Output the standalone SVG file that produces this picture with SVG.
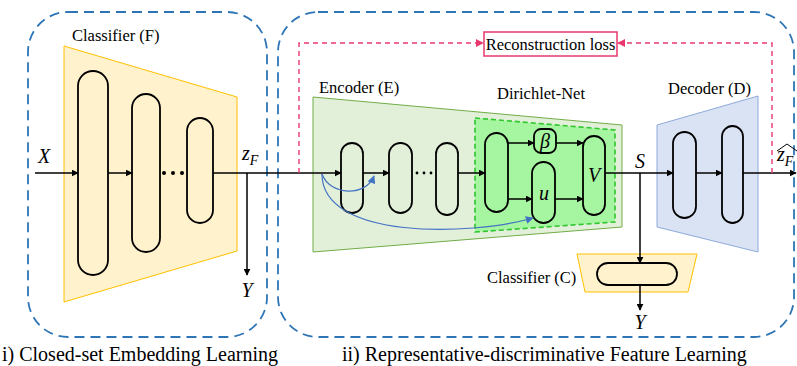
<svg xmlns="http://www.w3.org/2000/svg" width="797" height="366" viewBox="0 0 797 366">
<defs>
<marker id="ak" viewBox="0 0 10 10" refX="9" refY="5" markerWidth="7" markerHeight="7" orient="auto" markerUnits="userSpaceOnUse"><path d="M0,0 L10,5 L0,10 z" fill="#000"/></marker>
<marker id="ap" viewBox="0 0 10 10" refX="9" refY="5" markerWidth="8" markerHeight="8" orient="auto" markerUnits="userSpaceOnUse"><path d="M0,0 L10,5 L0,10 z" fill="#E8386E"/></marker>
<marker id="ab" viewBox="0 0 10 10" refX="9" refY="5" markerWidth="8" markerHeight="8" orient="auto" markerUnits="userSpaceOnUse"><path d="M0,0 L10,5 L0,10 z" fill="#4472C4"/></marker>
<style>
.frame{fill:none;stroke:#2E75B6;stroke-width:1.8;stroke-dasharray:10 6}
.pill{stroke:#000;stroke-width:1.8}
.arr{fill:none;stroke:#000;stroke-width:1.5;marker-end:url(#ak)}
.pink{fill:none;stroke:#E8386E;stroke-width:1.4;stroke-dasharray:5 4}
.blue{fill:none;stroke:#4472C4;stroke-width:1.2;marker-end:url(#ab)}
text{font-family:'Liberation Serif','DejaVu Serif',serif;fill:#000}
.lbl{font-size:16.5px}
.cap{font-size:20px}
.m{font-style:italic;font-size:20px}
</style>
</defs>
<rect width="797" height="366" fill="#fff"/>

<g id="frame-left"><rect class="frame" x="28" y="12" width="239" height="325" rx="40"/></g>
<g id="frame-right"><rect class="frame" x="278" y="12" width="516" height="325" rx="40"/></g>

<g id="classifier-F">
<polygon points="64,46 237,97 237,251 64,302" fill="#FFF2CC" stroke="#FFC000" stroke-width="1"/>
<text class="lbl" x="72" y="41" font-family="Liberation Serif, serif">Classifier (F)</text>
<rect class="pill" x="78" y="71" width="30" height="204" rx="15" fill="#FFF2CC"/>
<rect class="pill" x="132" y="94" width="28" height="158" rx="14" fill="#FFF2CC"/>
<rect class="pill" x="187" y="118" width="26" height="105" rx="13" fill="#FFF2CC"/>
<circle cx="164" cy="173" r="2"/><circle cx="173" cy="173" r="2"/><circle cx="182" cy="173" r="2"/>
</g>

<g id="encoder-E">
<polygon points="313,97 622,125 622,227 313,252" fill="#E2F0D9" stroke="#70AD47" stroke-width="1"/>
<text class="lbl" x="319" y="93">Encoder (E)</text>
<rect class="pill" x="341" y="143" width="22" height="70" rx="11" fill="#E2F0D9"/>
<rect class="pill" x="389" y="143" width="23" height="70" rx="11.5" fill="#E2F0D9"/>
<rect class="pill" x="436" y="143" width="22" height="72" rx="11" fill="#E2F0D9"/>
<circle cx="417" cy="173" r="1.4"/><circle cx="424" cy="173" r="1.4"/><circle cx="431" cy="173" r="1.4"/>
</g>

<g id="dirichlet-net">
<polygon points="475,118 615,130 615,222 475,232" fill="#A6F5A0" stroke="#2FC62F" stroke-width="1.6" stroke-dasharray="5 3"/>
<text class="lbl" x="497" y="99">Dirichlet-Net</text>
<rect class="pill" x="485" y="133" width="23" height="79" rx="11.5" fill="#A6F5A0"/>
<rect class="pill" x="534" y="129" width="22" height="24" rx="7" fill="#A6F5A0"/>
<rect class="pill" x="532" y="162" width="23" height="61" rx="11.5" fill="#A6F5A0"/>
<rect class="pill" x="583" y="136" width="22" height="79" rx="11" fill="#A6F5A0"/>
<text class="m" x="545" y="148" text-anchor="middle" font-size="19">β</text>
<text class="m" x="544" y="200" text-anchor="middle">u</text>
<text class="m" x="594" y="182" text-anchor="middle" font-size="18">V</text>
</g>

<g id="decoder-D">
<polygon points="657,125 758,96 758,252 657,227" fill="#DAE3F3" stroke="#8EA9DB" stroke-width="1"/>
<text class="lbl" x="668" y="94">Decoder (D)</text>
<rect class="pill" x="673" y="132" width="23" height="86" rx="11.5" fill="#DAE3F3"/>
<rect class="pill" x="722" y="126" width="21" height="97" rx="10.5" fill="#DAE3F3"/>
</g>

<g id="classifier-C">
<polygon points="577,254 697,254 688,292 585,292" fill="#FFF2CC" stroke="#FFC000" stroke-width="1"/>
<rect class="pill" x="597" y="263" width="80" height="22" rx="11" fill="#FFF2CC"/>
<text class="lbl" x="487" y="283">Classifier (C)</text>
</g>

<g id="recon-loss">
<rect x="484" y="32" width="133" height="24" fill="#fff" stroke="#E8386E" stroke-width="1.5"/>
<text class="lbl" x="550.5" y="50" text-anchor="middle" font-size="14">Reconstruction loss</text>
</g>

<g id="connectors">
<line class="arr" x1="35" y1="173" x2="78" y2="173"/>
<line class="arr" x1="108" y1="173" x2="132" y2="173"/>
<line class="arr" x1="213" y1="173" x2="341" y2="173"/>
<line class="arr" x1="247" y1="173" x2="247" y2="275"/>
<line class="arr" x1="363" y1="173" x2="389" y2="173"/>
<line class="arr" x1="458" y1="173" x2="485" y2="173"/>
<line class="arr" x1="508" y1="143" x2="534" y2="143"/>
<line class="arr" x1="508" y1="199" x2="532" y2="199"/>
<line class="arr" x1="556" y1="143" x2="583" y2="143"/>
<line class="arr" x1="555" y1="199" x2="583" y2="199"/>
<line class="arr" x1="605" y1="173" x2="673" y2="173"/>
<line class="arr" x1="640" y1="173" x2="640" y2="263"/>
<line class="arr" x1="640" y1="285" x2="640" y2="310"/>
<line class="arr" x1="696" y1="173" x2="722" y2="173"/>
<line class="arr" x1="743" y1="173" x2="796" y2="173"/>
<path class="pink" d="M299,173 V43 H483" marker-end="url(#ap)"/>
<path class="pink" d="M772,173 V43 H618" marker-end="url(#ap)"/>
<path class="blue" d="M322,174 C330,196 366,197 374,176"/>
<path class="blue" d="M322,174 C322,240 470,236 533,218"/>
</g>

<g id="labels">
<text class="m" x="38" y="163">X</text>
<text class="m" x="242" y="160" font-size="18">z<tspan font-size="14" dy="5">F</tspan></text>
<text class="m" x="247" y="297" text-anchor="middle">Y</text>
<text class="m" x="640" y="168" text-anchor="middle" font-size="18">S</text>
<text class="m" x="640" y="329" text-anchor="middle">Y</text>
<text class="m" x="777" y="161" font-size="18">z<tspan font-size="14" dy="5">F</tspan></text>
<path d="M777,151 L787,144 L797,151" fill="none" stroke="#000" stroke-width="1"/>
<text class="cap" x="2" y="361">i) Closed-set Embedding Learning</text>
<text class="cap" x="342" y="361">ii) Representative-discriminative Feature Learning</text>
</g>
</svg>
